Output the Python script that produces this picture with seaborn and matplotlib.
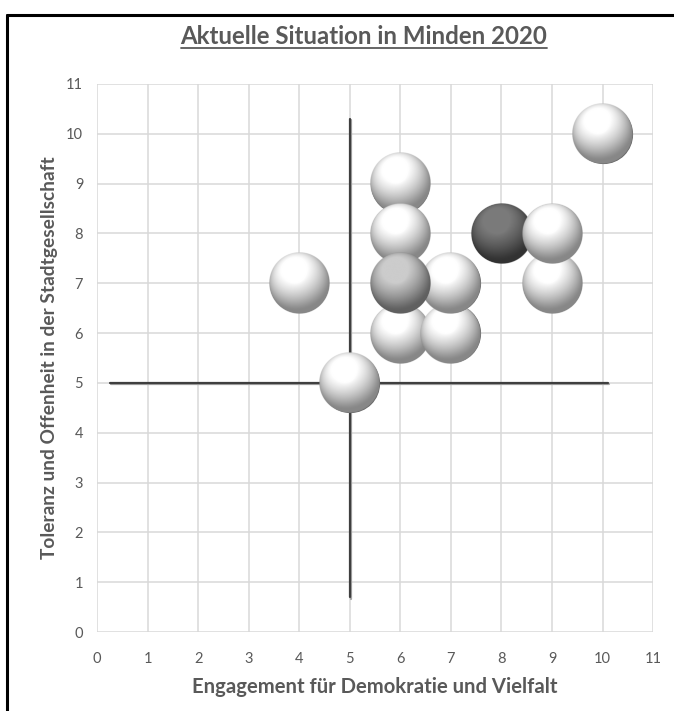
import numpy as np
import pandas as pd
import matplotlib
matplotlib.use("Agg")
import matplotlib.pyplot as plt
import matplotlib.transforms as mtransforms
from matplotlib.lines import Line2D
import seaborn as sns

# --- data -----------------------------------------------------------------
engagement = [10, 4, 5, 6, 6, 6, 7, 7, 6, 9, 8, 9]
toleranz = [10, 7, 5, 9, 8, 6, 6, 7, 7, 7, 8, 8]
ton = ["hell", "hell", "hell", "hell", "hell", "hell", "hell", "hell",
       "mittel", "hell", "dunkel", "hell"]
ticks = list(range(0, 12))
mittel_x = 5
mittel_y = 5
senkrecht_von, senkrecht_bis = 0.7, 10.3
waagerecht_von, waagerecht_bis = 0.25, 10.1

titel = "Aktuelle Situation in Minden 2020"
x_titel = "Engagement für Demokratie und Vielfalt"
y_titel = "Toleranz und Offenheit in der Stadtgesellschaft"

df = pd.DataFrame({"x": engagement, "y": toleranz, "ton": ton})

# sphere shading per tone: (darkest, brightest)
farben = {
    "hell": (0.40, 1.00),
    "mittel": (0.26, 0.80),
    "dunkel": (0.12, 0.48),
}

sns.set_theme(style="white")
plt.rcParams["font.family"] = ["Lato", "DejaVu Sans"]

grau = "#595959"
fig = plt.figure(figsize=(6.74, 7.11), dpi=100)
ax = fig.add_axes([0.144, 0.111, 0.825, 0.771])

ax.set_xlim(0, 11)
ax.set_ylim(0, 11)
ax.set_xticks(ticks)
ax.set_yticks(ticks)
ax.grid(True, color="#d9d9d9", linewidth=1.1)
ax.set_axisbelow(True)
for s in ax.spines.values():
    s.set_visible(False)
ax.tick_params(axis="both", length=0, labelsize=10.5, labelcolor=grau)
ax.tick_params(axis="x", pad=14)
ax.tick_params(axis="y", pad=10)

# quadrant cross with a soft shadow line
schatten = mtransforms.offset_copy(ax.transData, fig=fig, x=0.9, y=-1.1, units="points")
for tr, col in ((schatten, "#a6a6a6"), (ax.transData, "#3f3f3f")):
    sns.lineplot(x=[mittel_x, mittel_x], y=[senkrecht_von, senkrecht_bis], ax=ax,
                 color=col, linewidth=1.6, transform=tr, zorder=3,
                 sort=False, estimator=None)
    sns.lineplot(x=[waagerecht_von, waagerecht_bis], y=[mittel_y, mittel_y], ax=ax,
                 color=col, linewidth=1.6, transform=tr, zorder=3,
                 sort=False, estimator=None)

# --- shaded sphere texture -------------------------------------------------
n = 200
u = np.linspace(-1, 1, n)
gx, gy = np.meshgrid(u, -u)
rr = np.sqrt(gx ** 2 + gy ** 2)
nz = np.sqrt(np.clip(1 - rr ** 2, 0, 1))
licht = np.array([-0.20, 0.50, 0.84])
licht = licht / np.linalg.norm(licht)
diffus = np.clip(gx * licht[0] + gy * licht[1] + nz * licht[2], 0, 1)
halb = licht + np.array([0, 0, 1.0])
halb = halb / np.linalg.norm(halb)
glanz = np.clip(gx * halb[0] + gy * halb[1] + nz * halb[2], 0, 1) ** 40
helligkeit = np.clip(0.22 + 0.90 * diffus ** 1.4 + 0.2 * glanz, 0, 1)
alpha = np.clip((1 - rr) * n / 3.0, 0, 1)

durchmesser_px = 61
durchmesser_pt = durchmesser_px * 72 / fig.dpi
ax_w, ax_h = ax.get_window_extent().width, ax.get_window_extent().height
rx = durchmesser_px / 2 * 11 / ax_w
ry = durchmesser_px / 2 * 11 / ax_h

z = 4
for _, row in df.iterrows():
    lo, hi = farben[row["ton"]]
    punkt = pd.DataFrame({"x": [row["x"]], "y": [row["y"]]})
    # base disc in the rim tone
    sns.scatterplot(data=punkt, x="x", y="y", ax=ax, s=(durchmesser_pt * 0.97) ** 2,
                    color=(lo, lo, lo), linewidth=0, zorder=z, legend=False)
    g = lo + (hi - lo) * helligkeit
    bild = np.dstack([g, g, g, alpha])
    ax.imshow(bild, extent=[row["x"] - rx, row["x"] + rx, row["y"] - ry, row["y"] + ry],
              aspect="auto", interpolation="antialiased", zorder=z + 0.01)
    z += 0.1

ax.set_xlim(0, 11)
ax.set_ylim(0, 11)

ax.set_xlabel(x_titel, fontsize=14.6, fontweight="bold", color=grau, labelpad=8)
ax.set_ylabel(y_titel, fontsize=13.8, fontweight="bold", color=grau, labelpad=6)

t = fig.text(0.540, 0.948, titel, ha="center", va="center",
             fontsize=17.3, fontweight="bold", color=grau)

# underline the title
fig.canvas.draw()
bb = t.get_window_extent(renderer=fig.canvas.get_renderer())
inv = fig.transFigure.inverted()
(x0, y0), (x1, _) = inv.transform([(bb.x0, bb.y0), (bb.x1, bb.y0)])
fig.add_artist(Line2D([x0, x1], [y0 + 0.0005, y0 + 0.0005], transform=fig.transFigure,
                      color=grau, linewidth=1.3))

# frame on the left and top edge
fig.add_artist(Line2D([0.011, 0.011], [0.0, 0.979], transform=fig.transFigure,
                      color="black", linewidth=2.2))
fig.add_artist(Line2D([0.011, 1.0], [0.979, 0.979], transform=fig.transFigure,
                      color="black", linewidth=2.2))

fig.savefig("out.png", dpi=100, facecolor="white")
